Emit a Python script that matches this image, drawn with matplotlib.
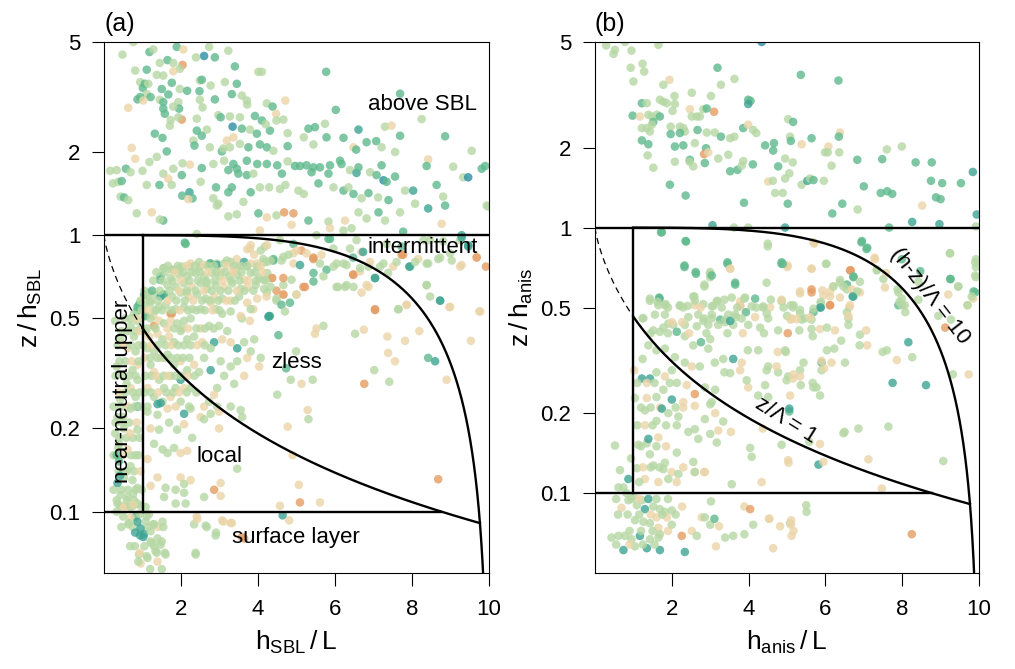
import numpy as np
import matplotlib
matplotlib.use("Agg")
import matplotlib.pyplot as plt
from matplotlib.ticker import NullLocator

plt.rcParams["font.family"] = ["Liberation Sans", "DejaVu Sans"]
plt.rcParams["mathtext.default"] = "regular"

# colour classes of the points (orange -> tan -> light green -> green -> teal -> blue)
colour_of = {"O": "#e49c63", "T": "#ebd5a9", "L": "#b6d8a4",
             "G": "#5fba8d", "D": "#3da493", "B": "#2c8fa5"}

# ---- panel (a): points, (h_SBL/L, z/h_SBL, colour class)
a_above = [
    (0.76,5.0,"L"),(0.48,4.5,"L"),(1.18,4.6,"G"),(1.28,4.7,"L"),(1.89,4.8,"G"),(2.06,4.7,"T"),(2.60,4.45,"B"),
    (2.88,4.4,"G"),(2.73,4.8,"L"),(3.23,4.65,"L"),(2.04,4.13,"O"),(2.39,4.4,"L"),(1.65,4.3,"G"),(1.45,4.2,"L"),
    (1.80,4.2,"L"),(1.97,4.0,"L"),(3.40,4.08,"G"),(0.81,3.94,"L"),(1.11,3.97,"G"),(1.37,3.8,"L"),(1.54,3.78,"L"),
    (1.80,3.92,"T"),(4.01,3.9,"L"),(4.1,3.9,"L"),(5.77,3.9,"G"),(2.49,3.63,"L"),(2.54,3.65,"G"),(3.14,3.58,"L"),
    (3.45,3.53,"G"),(0.94,3.58,"L"),(1.06,3.53,"G"),(1.01,3.41,"G"),(1.15,3.53,"L"),(1.50,3.38,"G"),(1.76,3.56,"G"),
    (1.97,3.38,"L"),(2.16,3.33,"G"),(2.48,3.32,"G"),(2.77,3.48,"L"),(3.32,3.24,"G"),(1.11,3.24,"L"),(0.87,3.1,"G"),
    (0.94,3.16,"G"),(1.21,3.16,"G"),(1.45,3.09,"L"),(1.67,3.23,"G"),(1.02,3.07,"T"),(0.63,2.89,"T"),(1.54,3.03,"G"),
    (1.93,3.03,"L"),(1.95,2.87,"G"),(1.80,2.92,"L"),(1.54,2.87,"G"),(1.58,2.75,"G"),(2.49,3.09,"L"),(2.88,3.1,"G"),
    (2.56,2.9,"L"),(3.58,3.2,"L"),(3.71,3.07,"L"),(3.72,2.97,"L"),(4.23,3.0,"L"),(4.38,2.92,"G"),(4.71,3.07,"T"),
    (7.69,3.25,"G"),(6.02,2.84,"G"),(2.02,2.62,"O"),(1.71,2.49,"L"),(1.73,2.61,"L"),(1.93,2.67,"L"),(2.41,2.64,"L"),
    (2.97,2.72,"L"),(3.03,2.67,"G"),(3.27,2.69,"L"),(3.53,2.67,"L"),(3.92,2.7,"G"),(4.1,2.6,"G"),(4.47,2.75,"T"),
    (4.48,2.6,"L"),(4.66,2.62,"L"),(8.25,2.63,"L"),(3.34,2.47,"B"),(2.41,2.39,"G"),(2.67,2.41,"L"),(2.54,2.29,"G"),
    (3.58,2.43,"G"),(3.79,2.41,"L"),(3.97,2.33,"G"),(4.31,2.39,"G"),(4.2,2.52,"L"),(4.77,2.34,"L"),(5.31,2.43,"G"),
    (5.48,2.46,"G"),(5.74,2.53,"L"),(6.61,2.41,"D"),(7.30,2.47,"L"),(7.47,2.49,"T"),(7.69,2.29,"G"),(8.86,2.28,"G"),
    (1.32,2.33,"G"),(1.52,2.25,"G"),(0.72,2.07,"T"),(0.81,1.89,"T"),(1.63,2.01,"G"),(2.32,2.2,"L"),(2.35,2.11,"G"),
    (2.75,2.08,"L"),(3.06,2.01,"G"),(3.10,2.06,"L"),(3.19,2.2,"T"),(3.36,2.26,"T"),(3.27,2.08,"L"),(3.53,2.14,"L"),
    (3.75,2.08,"G"),(4.05,2.13,"G"),(4.23,2.08,"G"),(4.40,2.02,"L"),(4.77,2.1,"G"),(5.19,2.26,"L"),(5.44,2.13,"L"),
    (5.78,2.26,"G"),(6.22,2.25,"G"),(6.48,2.08,"T"),(6.55,2.04,"G"),(6.82,2.17,"G"),(7.07,2.19,"G"),(7.21,2.08,"L"),
    (7.56,2.0,"L"),(9.55,2.02,"L"),(8.42,1.88,"T"),(0.16,1.71,"L"),(0.33,1.72,"L"),(0.57,1.74,"G"),(0.69,1.69,"L"),
    (1.0,1.71,"L"),(1.18,1.84,"L"),(1.37,1.92,"L"),(1.54,1.67,"L"),(1.67,1.60,"T"),(1.80,1.74,"L"),(2.04,1.82,"L"),
    (2.23,1.8,"T"),(2.54,1.75,"G"),(2.02,1.65,"G"),(2.84,1.81,"L"),(3.12,1.86,"L"),(3.23,1.72,"G"),(3.36,1.81,"G"),
    (3.45,1.74,"G"),(3.49,1.67,"G"),(3.71,1.86,"G"),(3.71,1.65,"G"),(3.88,1.67,"L"),(3.98,1.81,"G"),(4.23,1.81,"G"),
    (4.5,1.79,"G"),(4.62,1.67,"G"),(4.77,1.85,"L"),(4.96,1.78,"G"),(5.09,1.78,"G"),(5.26,1.79,"G"),(5.44,1.76,"G"),
    (5.39,1.69,"G"),(5.61,1.76,"G"),(5.87,1.79,"G"),(5.83,1.67,"G"),(6.13,1.86,"G"),(6.17,1.81,"G"),(6.39,1.72,"L"),
    (6.56,1.68,"D"),(6.61,1.76,"G"),(6.91,1.69,"L"),(7.21,1.79,"G"),(7.08,1.65,"G"),(7.26,1.58,"B"),(7.34,1.56,"G"),
    (7.56,1.63,"G"),(8.38,1.78,"G"),(9.07,1.77,"L"),(9.33,1.62,"L"),(9.46,1.62,"B"),(9.81,1.74,"G"),(9.9,1.78,"G"),
    (0.23,1.54,"L"),(0.37,1.56,"L"),(0.46,1.57,"G"),(0.43,1.38,"L"),(0.52,1.37,"G"),(0.63,1.34,"L"),(1.11,1.52,"L"),
    (1.44,1.52,"G"),(1.76,1.52,"L"),(2.03,1.39,"G"),(2.22,1.43,"D"),(2.30,1.36,"G"),(2.19,1.35,"T"),(2.51,1.56,"L"),
    (2.91,1.49,"G"),(2.84,1.36,"L"),(2.97,1.30,"L"),(3.23,1.43,"G"),(3.32,1.49,"G"),(3.62,1.32,"L"),(3.81,1.43,"G"),
    (4.05,1.49,"L"),(4.29,1.49,"L"),(4.57,1.47,"L"),(4.71,1.52,"L"),(5.05,1.45,"L"),(5.19,1.41,"L"),(5.57,1.54,"G"),
    (5.96,1.49,"L"),(6.22,1.45,"G"),(6.35,1.49,"L"),(6.48,1.41,"G"),(6.69,1.36,"L"),(6.87,1.42,"G"),(7.12,1.37,"L"),
    (7.39,1.34,"G"),(7.82,1.45,"L"),(8.03,1.45,"D"),(8.08,1.30,"L"),(8.64,1.52,"G"),(8.81,1.38,"L"),(8.86,1.28,"G"),
    (8.42,1.25,"D"),(9.94,1.28,"L"),(0.85,1.2,"L"),(1.24,1.21,"T"),(1.54,1.13,"G"),(1.45,1.14,"L"),(2.41,1.01,"L"),
    (2.93,1.28,"L"),(3.23,1.17,"L"),(3.45,1.19,"L"),(4.01,1.2,"G"),(4.23,1.16,"T"),(4.48,1.18,"L"),(4.68,1.21,"O"),
    (4.92,1.2,"O"),(4.87,1.09,"T"),(5.31,1.13,"G"),(5.83,1.12,"L"),(5.87,1.06,"T"),(6.26,1.13,"T"),(6.22,1.04,"L"),
    (6.43,1.06,"L"),(6.61,1.21,"L"),(6.82,1.15,"L"),(7.13,1.21,"G"),(7.3,1.13,"L"),(7.69,1.21,"L"),(7.77,1.03,"G"),
    (8.77,1.1,"T"),(9.29,1.0,"D"),(9.98,1.27,"L"),(4.05,1.04,"T"),
]

a_band = [
    (2.10,0.94,"G"),(4.18,0.91,"L"),(3.79,0.895,"T"),(3.45,0.82,"T"),(3.19,0.81,"L"),(2.93,0.79,"L"),(2.75,0.79,"G"),
    (2.49,0.77,"L"),(2.23,0.77,"L"),(1.97,0.76,"L"),(1.76,0.75,"L"),(1.54,0.76,"L"),(1.45,0.69,"G"),(1.04,0.61,"G"),
    (1.15,0.62,"L"),(0.94,0.57,"L"),(0.85,0.53,"G"),(1.06,0.51,"L"),(1.28,0.51,"T"),(1.76,0.52,"O"),(1.54,0.61,"G"),
    (2.15,0.62,"L"),(2.67,0.67,"L"),(3.01,0.71,"L"),(3.36,0.74,"T"),(3.71,0.77,"L"),(3.97,0.79,"T"),(4.23,0.8,"L"),
    (4.4,0.82,"G"),(4.66,0.835,"L"),(4.92,0.86,"T"),(5.13,0.88,"O"),(5.44,0.82,"O"),(5.61,0.79,"L"),(5.78,0.75,"G"),
    (5.96,0.77,"L"),(6.22,0.79,"L"),(6.48,0.72,"O"),(6.65,0.74,"T"),(6.87,0.77,"L"),(7.04,0.70,"G"),(7.26,0.79,"L"),
    (7.51,0.77,"T"),(7.73,0.85,"O"),(7.95,0.77,"G"),(8.16,0.82,"T"),(8.38,0.79,"L"),(8.68,0.82,"L"),(8.99,0.86,"L"),
    (9.29,0.78,"T"),(9.46,0.91,"D"),(9.68,0.835,"T"),(9.92,0.77,"O"),(8.38,0.66,"L"),(8.73,0.58,"G"),(8.99,0.55,"T"),
    (7.86,0.56,"T"),(7.65,0.54,"L"),(7.04,0.54,"O"),(6.87,0.65,"T"),(6.48,0.65,"L"),(6.30,0.66,"L"),(6.04,0.65,"L"),
    (9.77,0.53,"T"),(5.22,0.65,"O"),(5.0,0.61,"L"),(4.66,0.61,"T"),(4.66,0.66,"L"),(4.48,0.59,"L"),(4.48,0.63,"O"),
    (4.23,0.62,"L"),(4.31,0.51,"G"),(3.88,0.54,"T"),(3.58,0.50,"L"),(3.79,0.49,"T"),(5.44,0.73,"G"),(8.3,0.96,"L"),
    (8.47,0.96,"L"),(8.81,0.95,"L"),(9.25,0.96,"L"),(7.73,0.91,"G"),(7.34,0.93,"L"),(5.96,0.895,"L"),(6.39,0.895,"L"),
    (6.69,0.87,"T"),(5.83,0.97,"G"),(6.56,0.96,"L"),(4.92,0.93,"G"),
    (4.14,0.82,"L"),(4.4,0.81,"G"),(4.61,0.81,"L"),(4.79,0.85,"L"),(4.92,0.79,"T"),(5.09,0.78,"D"),(5.26,0.86,"T"),
    (5.44,0.83,"O"),(5.65,0.85,"T"),(5.87,0.97,"G"),(6.04,0.79,"L"),(6.3,0.78,"L"),(6.47,0.83,"G"),(6.65,0.76,"L"),
    (6.73,0.87,"D"),(6.91,0.80,"T"),(7.04,0.70,"D"),(7.17,0.77,"L"),(7.38,0.73,"L"),(7.6,0.80,"L"),(7.77,0.85,"O"),
    (7.93,0.77,"D"),(8.08,0.80,"L"),(8.42,0.79,"L"),(8.73,0.83,"L"),(9.03,0.81,"L"),(9.25,0.77,"T"),(9.29,0.98,"D"),
    (9.46,0.92,"D"),(9.68,0.83,"O"),(4.35,0.70,"T"),(4.66,0.70,"O"),(4.87,0.69,"L"),(5.18,0.65,"O"),(5.44,0.68,"G"),
    (5.7,0.71,"L"),(6.08,0.65,"L"),(6.26,0.65,"L"),(6.47,0.72,"O"),(6.82,0.66,"T"),(6.69,0.62,"T"),(4.48,0.58,"L"),
    (4.61,0.56,"G"),(4.7,0.53,"L"),(4.83,0.57,"G"),(5.0,0.61,"T"),(4.66,0.61,"O"),(4.22,0.60,"T"),(4.14,0.69,"L"),
    (5.0,0.88,"T"),(4.57,0.96,"L"),(5.52,1.0,"L"),
]

a_mid = [
    (4.27,0.507,"D"),(4.53,0.435,"G"),(5.7,0.47,"L"),(5.48,0.44,"T"),(5.52,0.46,"T"),(7.04,0.536,"O"),(6.52,0.44,"L"),
    (6.75,0.455,"T"),(7.64,0.54,"L"),(7.86,0.56,"T"),(8.19,0.45,"T"),(8.38,0.66,"L"),(8.47,0.60,"L"),(8.73,0.58,"D"),
    (8.97,0.55,"T"),(9.75,0.53,"T"),(9.53,0.415,"T"),(7.82,0.415,"T"),(7.36,0.43,"T"),(7.38,0.375,"T"),(7.56,0.35,"T"),
    (8.42,0.36,"G"),(8.6,0.35,"D"),(8.9,0.30,"T"),(7.02,0.325,"L"),(7.41,0.295,"L"),(6.76,0.29,"O"),(4.99,0.38,"L"),
    (4.73,0.33,"G"),(4.85,0.30,"L"),(5.13,0.29,"T"),(5.42,0.30,"L"),(4.5,0.265,"L"),(5.29,0.233,"T"),(5.31,0.216,"L"),
    (4.77,0.203,"T"),(4.9,0.16,"T"),(5.06,0.125,"T"),(5.09,0.108,"O"),(5.61,0.108,"T"),(4.57,0.105,"T"),(4.64,0.097,"D"),
    (4.81,0.093,"T"),(8.68,0.131,"O"),
]

a_cluster = [
    (2.12,0.93,"G"),(1.56,0.76,"L"),(1.82,0.75,"L"),(2.03,0.77,"L"),(2.25,0.79,"T"),(2.47,0.80,"L"),(2.6,0.78,"T"),
    (2.77,0.79,"G"),(2.94,0.78,"D"),(3.12,0.79,"L"),(3.29,0.80,"L"),(3.46,0.77,"T"),(3.64,0.80,"D"),(3.81,0.79,"T"),
    (3.98,0.77,"L"),(4.16,0.80,"L"),(4.33,0.81,"L"),(3.9,0.85,"T"),(3.72,0.89,"T"),(3.81,0.92,"T"),(4.07,0.88,"L"),
    (4.24,0.92,"T"),(1.47,0.71,"G"),(1.73,0.70,"L"),(1.95,0.72,"L"),(2.16,0.71,"L"),(2.38,0.73,"L"),(2.6,0.71,"L"),
    (2.81,0.73,"L"),(3.03,0.74,"T"),(3.25,0.71,"L"),(3.46,0.72,"L"),(3.64,0.69,"T"),(3.81,0.73,"L"),(4.03,0.70,"L"),
    (4.24,0.73,"L"),(4.37,0.70,"O"),(1.65,0.66,"L"),(1.86,0.65,"L"),(2.08,0.67,"L"),(2.29,0.65,"T"),(2.51,0.67,"L"),
    (2.68,0.64,"L"),(2.9,0.66,"L"),(3.12,0.65,"T"),(3.33,0.67,"L"),(3.55,0.64,"L"),(3.72,0.65,"T"),(3.94,0.66,"L"),
    (4.16,0.64,"L"),(4.33,0.65,"L"),(1.13,0.60,"L"),(1.34,0.61,"L"),(1.56,0.61,"G"),(1.77,0.60,"L"),(1.99,0.62,"L"),
    (2.21,0.60,"T"),(2.42,0.61,"L"),(2.64,0.59,"L"),(2.86,0.60,"T"),(3.07,0.59,"L"),(3.29,0.58,"T"),(3.51,0.60,"L"),
    (3.72,0.57,"T"),(3.98,0.59,"T"),(4.29,0.51,"D"),(0.91,0.56,"G"),(1.04,0.56,"L"),(1.21,0.57,"L"),(1.43,0.55,"L"),
    (1.6,0.56,"L"),(1.73,0.52,"O"),(1.86,0.54,"L"),(2.08,0.55,"L"),(2.29,0.54,"L"),(2.51,0.54,"L"),(2.77,0.57,"T"),
    (2.9,0.54,"L"),(3.07,0.52,"L"),(3.29,0.53,"L"),(3.55,0.51,"T"),(3.81,0.54,"L"),(0.78,0.52,"L"),(0.87,0.49,"L"),
    (1.08,0.51,"G"),(1.21,0.50,"L"),(1.3,0.47,"O"),(1.43,0.49,"T"),(1.56,0.48,"L"),(1.73,0.49,"T"),(1.9,0.48,"L"),
    (2.08,0.49,"L"),(2.25,0.50,"L"),(2.51,0.46,"T"),(2.73,0.47,"L"),(2.99,0.47,"L"),(3.2,0.45,"L"),(1.08,0.45,"L"),
    (1.17,0.43,"T"),(1.39,0.44,"T"),(1.52,0.42,"L"),(1.69,0.43,"T"),(1.82,0.41,"L"),(1.99,0.45,"L"),(2.16,0.42,"L"),
    (2.34,0.43,"L"),(2.55,0.41,"T"),(2.86,0.41,"D"),(3.07,0.42,"T"),(3.29,0.41,"T"),(3.46,0.39,"D"),(3.64,0.41,"L"),
    (3.9,0.42,"L"),(3.81,0.38,"L"),(4.07,0.36,"L"),(3.72,0.36,"T"),(3.46,0.35,"L"),(3.29,0.335,"L"),(4.03,0.335,"T"),
    (3.64,0.31,"T"),(3.38,0.29,"L"),(2.77,0.39,"L"),(2.6,0.36,"L"),(2.77,0.325,"D"),(3.03,0.35,"L"),(3.12,0.31,"L"),
    (2.94,0.28,"L"),(2.86,0.265,"T"),(1.13,0.39,"L"),(1.3,0.38,"L"),(1.47,0.36,"T"),(1.65,0.37,"L"),(1.82,0.34,"L"),
    (1.99,0.35,"T"),(2.16,0.325,"L"),(2.34,0.34,"T"),(2.47,0.32,"L"),(1.21,0.34,"L"),(1.3,0.32,"T"),(1.43,0.30,"L"),
    (1.73,0.31,"L"),(1.56,0.28,"L"),(1.99,0.30,"D"),(1.86,0.28,"L"),(2.08,0.28,"T"),(2.25,0.28,"L"),(1.13,0.28,"T"),
    (1.3,0.26,"L"),(1.52,0.25,"L"),(1.73,0.26,"T"),(1.99,0.25,"L"),(2.21,0.24,"L"),(1.39,0.245,"D"),(1.13,0.24,"L"),
    (2.6,0.24,"T"),(2.94,0.24,"L"),(2.73,0.25,"L"),(0.87,0.55,"G"),(0.69,0.47,"L"),(0.78,0.43,"L"),(0.61,0.39,"T"),
    (0.82,0.38,"L"),(0.87,0.34,"T"),(0.74,0.325,"L"),(0.87,0.30,"L"),(0.69,0.28,"T"),(0.82,0.26,"L"),(0.87,0.24,"D"),
    (1.47,0.60,"D"),(1.3,0.535,"L"),
]

# extra points in the densest part of the cloud (estimated, overlapping dots)
a_dense = [
    (1.66,0.775,"L"),(1.92,0.775,"L"),(2.14,0.775,"T"),(2.36,0.775,"L"),(2.70,0.775,"L"),(2.86,0.775,"L"),
    (3.20,0.775,"T"),(3.38,0.775,"L"),(3.55,0.775,"L"),(3.72,0.775,"L"),(4.07,0.775,"T"),
    (1.36,0.735,"L"),(1.58,0.735,"L"),(1.84,0.735,"T"),(2.05,0.735,"L"),(2.27,0.735,"L"),(2.49,0.735,"L"),
    (2.70,0.735,"T"),(2.92,0.735,"L"),(3.14,0.735,"L"),(3.36,0.735,"T"),(3.57,0.735,"L"),(3.92,0.735,"L"),
    (4.12,0.735,"T"),
    (1.28,0.685,"L"),(1.52,0.685,"L"),(1.78,0.685,"L"),(2.00,0.685,"T"),(2.22,0.685,"L"),(2.44,0.685,"L"),
    (2.66,0.685,"L"),(2.88,0.685,"L"),(3.08,0.685,"T"),(3.30,0.685,"L"),(3.52,0.685,"L"),(3.75,0.685,"T"),
    (3.95,0.685,"L"),(4.2,0.685,"L"),
    (1.05,0.63,"L"),(1.25,0.63,"G"),(1.45,0.63,"L"),(1.70,0.63,"L"),(1.95,0.63,"T"),(2.15,0.63,"L"),
    (2.38,0.63,"L"),(2.60,0.63,"T"),(2.80,0.63,"L"),(3.02,0.63,"L"),(3.23,0.63,"L"),(3.45,0.63,"T"),
    (3.65,0.63,"L"),(3.88,0.63,"L"),
    (0.95,0.58,"L"),(1.20,0.58,"L"),(1.40,0.58,"L"),(1.66,0.58,"T"),(1.88,0.58,"L"),(2.10,0.58,"L"),
    (2.32,0.58,"T"),(2.55,0.58,"L"),(2.76,0.58,"L"),(2.97,0.58,"L"),(3.18,0.58,"T"),(3.40,0.58,"L"),
    (0.98,0.535,"L"),(1.15,0.535,"T"),(1.36,0.535,"L"),(1.52,0.535,"L"),(1.75,0.535,"L"),(1.97,0.535,"T"),
    (2.18,0.535,"L"),(2.40,0.535,"L"),(2.62,0.535,"L"),(2.82,0.535,"T"),(3.0,0.535,"L"),
    (0.95,0.46,"L"),(1.12,0.46,"L"),(1.34,0.46,"L"),(1.65,0.46,"T"),(1.82,0.46,"L"),(2.02,0.46,"L"),
    (2.18,0.46,"T"),(2.40,0.46,"L"),(2.62,0.46,"L"),(2.85,0.46,"L"),
    (1.02,0.40,"L"),(1.22,0.40,"T"),(1.40,0.40,"L"),(1.60,0.40,"L"),(1.75,0.40,"T"),(1.92,0.40,"L"),
    (2.08,0.40,"L"),(2.25,0.40,"L"),(2.42,0.40,"T"),(2.62,0.40,"L"),
    (1.05,0.36,"T"),(1.20,0.36,"L"),(1.38,0.36,"L"),(1.56,0.36,"L"),(1.73,0.36,"L"),(1.90,0.36,"L"),
    (2.05,0.36,"L"),(2.22,0.36,"L"),
    (1.08,0.31,"L"),(1.24,0.31,"L"),(1.36,0.31,"T"),(1.55,0.31,"L"),(1.67,0.31,"T"),(1.85,0.31,"L"),
    (2.0,0.31,"L"),(2.18,0.31,"T"),(2.35,0.31,"L"),
    (1.05,0.27,"L"),(1.22,0.27,"L"),(1.40,0.27,"T"),(1.62,0.27,"L"),(1.80,0.27,"L"),(1.95,0.27,"T"),
    (2.15,0.27,"L"),(2.40,0.27,"L"),
    (0.55,0.50,"L"),(0.70,0.50,"L"),(0.85,0.50,"T"),(0.45,0.45,"L"),(0.62,0.45,"L"),(0.80,0.45,"L"),
    (0.92,0.45,"T"),(0.35,0.40,"L"),(0.52,0.40,"T"),(0.70,0.40,"L"),(0.90,0.40,"L"),(0.40,0.35,"L"),
    (0.55,0.35,"L"),(0.72,0.35,"T"),(0.90,0.35,"L"),(0.30,0.31,"L"),(0.48,0.31,"L"),(0.65,0.31,"L"),
    (0.82,0.31,"L"),(0.38,0.27,"T"),(0.55,0.27,"L"),(0.75,0.27,"L"),(0.92,0.27,"L"),(0.25,0.24,"L"),
    (0.45,0.24,"L"),(0.62,0.24,"T"),(0.80,0.24,"L"),(0.95,0.24,"L"),(0.30,0.21,"L"),(0.48,0.21,"L"),
    (0.65,0.21,"L"),(0.85,0.21,"T"),(0.40,0.185,"L"),(0.58,0.185,"L"),(0.75,0.185,"L"),(0.92,0.185,"L"),
    (0.25,0.16,"L"),(0.50,0.16,"T"),(0.70,0.16,"L"),(0.90,0.16,"L"),(0.38,0.14,"L"),(0.55,0.14,"L"),
    (0.78,0.14,"L"),(0.95,0.14,"T"),(0.25,0.12,"L"),(0.45,0.12,"L"),(0.62,0.12,"L"),(0.82,0.12,"L"),
    (0.98,0.12,"L"),(0.42,0.105,"L"),(0.58,0.105,"T"),(0.75,0.105,"L"),(0.95,0.105,"L"),
    (0.45,0.088,"L"),(0.75,0.088,"L"),(1.15,0.088,"L"),(1.4,0.088,"T"),(0.8,0.075,"L"),(1.05,0.075,"L"),
    (1.3,0.075,"L"),(1.2,0.062,"L"),(1.5,0.062,"L"),
]

a_low = [
    (1.47,0.247,"D"),(1.13,0.23,"L"),(1.39,0.224,"L"),(1.65,0.236,"T"),(1.86,0.24,"T"),(2.08,0.226,"D"),(2.25,0.236,"L"),
    (2.51,0.22,"T"),(2.77,0.226,"L"),(2.99,0.23,"T"),(3.29,0.24,"L"),(3.55,0.233,"L"),(3.59,0.22,"L"),(2.99,0.20,"T"),
    (2.6,0.216,"L"),(1.21,0.20,"T"),(1.43,0.198,"L"),(1.69,0.21,"L"),(1.9,0.198,"L"),(2.08,0.207,"T"),(2.29,0.185,"L"),
    (1.3,0.176,"L"),(1.52,0.168,"L"),(1.65,0.163,"L"),(1.82,0.17,"L"),(1.99,0.163,"T"),(2.16,0.166,"T"),(1.13,0.155,"T"),
    (1.39,0.133,"T"),(1.21,0.124,"T"),(1.6,0.122,"L"),(1.86,0.12,"L"),(1.99,0.133,"T"),(2.08,0.126,"L"),(2.25,0.13,"T"),
    (2.08,0.117,"L"),(1.56,0.113,"L"),(1.86,0.107,"L"),(2.6,0.113,"L"),(2.86,0.12,"O"),(3.03,0.127,"T"),(3.03,0.114,"T"),
    (3.46,0.143,"L"),(2.12,0.107,"L"),(1.08,0.104,"L"),(1.17,0.098,"L"),(0.35,0.22,"L"),(0.52,0.20,"L"),(0.69,0.236,"L"),
    (0.87,0.198,"L"),(0.39,0.176,"L"),(0.61,0.168,"T"),(0.82,0.16,"L"),(0.39,0.152,"G"),(0.69,0.146,"L"),(0.52,0.133,"L"),
    (0.35,0.127,"D"),(0.74,0.13,"L"),(0.87,0.122,"L"),(0.43,0.115,"L"),(0.61,0.113,"L"),(0.78,0.11,"L"),(0.35,0.107,"L"),
    (0.52,0.104,"T"),(0.69,0.104,"L"),(0.87,0.107,"L"),(0.82,0.096,"G"),(0.69,0.095,"T"),(0.87,0.092,"D"),(0.95,0.087,"D"),
    (1.04,0.083,"D"),(0.65,0.091,"L"),(1.08,0.092,"L"),(1.3,0.09,"L"),(1.52,0.092,"L"),(1.21,0.085,"L"),(1.39,0.08,"L"),
    (1.21,0.078,"L"),(1.47,0.076,"L"),(1.34,0.072,"L"),(1.6,0.07,"L"),(0.91,0.07,"L"),(1.13,0.068,"L"),(1.39,0.066,"T"),
    (0.95,0.065,"T"),(2.34,0.09,"L"),(2.64,0.089,"L"),(2.42,0.094,"T"),(3.07,0.093,"T"),(3.29,0.091,"T"),(2.9,0.082,"L"),
    (2.38,0.071,"L"),(3.64,0.08,"O"),
    (0.29,0.49,"L"),(0.42,0.42,"L"),(0.33,0.335,"L"),(0.59,0.29,"L"),(0.42,0.254,"L"),(0.5,0.22,"L"),(0.29,0.192,"L"),
    (0.68,0.192,"T"),(0.37,0.17,"L"),(0.33,0.16,"G"),(0.42,0.135,"D"),(0.59,0.14,"L"),(0.33,0.11,"L"),(0.59,0.11,"L"),
    (0.76,0.116,"L"),(0.76,0.106,"T"),(0.33,0.10,"L"),(0.5,0.096,"L"),(0.63,0.09,"L"),(0.81,0.084,"D"),(0.94,0.082,"D"),
    (1.02,0.081,"D"),(0.68,0.075,"L"),(0.94,0.071,"T"),(0.89,0.066,"L"),(1.11,0.069,"L"),(1.37,0.071,"L"),(1.58,0.071,"L"),
    (1.5,0.078,"L"),(1.24,0.077,"L"),(1.28,0.09,"L"),(1.54,0.088,"L"),(1.11,0.096,"L"),(0.94,0.098,"L"),(2.38,0.07,"L"),
    (2.67,0.088,"L"),(2.91,0.084,"L"),(3.1,0.092,"T"),(2.41,0.096,"T"),(3.32,0.091,"T"),(3.58,0.081,"O"),
]

# ---- panel (b): (h_anis/L, z/h_anis, colour class)
b_above = [
    (0.29,4.85,"L"),(0.52,4.67,"L"),(0.48,4.51,"L"),(0.78,5.0,"L"),(0.95,4.64,"L"),(1.65,4.88,"L"),(4.34,5.0,"B"),
    (0.93,4.0,"L"),(1.24,4.14,"L"),(1.28,3.87,"L"),(1.0,3.55,"L"),(1.94,3.6,"T"),(1.78,3.45,"L"),(3.19,4.0,"G"),
    (3.63,3.63,"L"),(3.28,3.45,"L"),(2.52,3.22,"L"),(5.36,3.76,"G"),(6.34,3.58,"G"),(2.07,3.13,"L"),(1.69,3.03,"L"),
    (1.78,2.98,"L"),(1.87,2.94,"L"),(1.22,2.94,"G"),(1.35,2.94,"L"),(2.08,2.92,"L"),(3.02,3.13,"L"),(3.99,3.03,"G"),
    (4.05,3.0,"G"),(3.99,2.92,"D"),(2.47,2.79,"T"),(2.82,2.79,"L"),(2.91,2.81,"G"),(3.1,2.73,"O"),(2.02,2.75,"L"),
    (0.98,2.64,"G"),(1.17,2.62,"T"),(1.39,2.66,"L"),(1.48,2.62,"L"),(1.61,2.66,"L"),(1.69,2.62,"G"),(1.52,2.5,"G"),
    (1.48,2.44,"L"),(1.35,2.37,"L"),(1.22,2.37,"L"),(1.43,2.30,"L"),(2.52,2.62,"L"),(2.65,2.62,"L"),(2.73,2.62,"L"),
    (1.97,2.4,"L"),(2.21,2.4,"L"),(2.3,2.37,"L"),(2.34,2.3,"L"),(2.21,2.27,"G"),(1.97,2.25,"G"),(2.67,2.33,"G"),
    (2.91,2.28,"L"),(3.12,2.28,"L"),(3.28,2.2,"G"),(3.52,2.17,"L"),(3.63,2.2,"L"),(3.86,2.37,"G"),(3.99,2.44,"T"),
    (4.12,2.33,"L"),(4.2,2.27,"L"),(5.03,2.56,"L"),(5.16,2.5,"G"),(5.08,2.2,"L"),(5.1,2.12,"G"),(5.64,2.17,"G"),
    (6.38,2.28,"T"),(6.35,2.2,"G"),(1.22,2.13,"G"),(1.39,2.06,"G"),(1.37,1.87,"L"),(1.52,1.68,"L"),(2.08,2.02,"G"),
    (2.3,2.04,"G"),(2.6,2.08,"L"),(2.89,1.99,"G"),(2.84,1.89,"O"),(2.95,1.92,"T"),(3.47,1.88,"L"),(3.21,1.82,"L"),
    (2.86,1.75,"G"),(2.47,1.8,"G"),(2.08,1.77,"L"),(2.56,1.70,"L"),(2.46,1.77,"L"),(3.86,1.78,"L"),(4.11,1.73,"G"),
    (4.43,2.04,"G"),(4.66,2.08,"G"),(4.64,1.95,"G"),(4.77,1.70,"G"),(4.95,1.82,"L"),(5.15,1.76,"L"),(5.38,2.06,"T"),
    (6.08,2.02,"T"),(5.99,1.92,"L"),(6.06,1.92,"L"),(6.36,1.92,"L"),(6.16,1.71,"L"),(6.83,1.80,"G"),(7.48,1.81,"G"),
    (7.6,1.97,"L"),(7.99,2.02,"L"),(8.35,1.76,"G"),(8.77,1.76,"G"),(9.84,1.62,"D"),(3.52,1.63,"G"),(3.71,1.65,"G"),
    (3.82,1.71,"L"),(1.95,1.45,"G"),(2.36,1.32,"G"),(4.51,1.49,"T"),(4.63,1.50,"L"),(4.69,1.35,"L"),(4.89,1.35,"L"),
    (4.95,1.53,"L"),(5.06,1.6,"L"),(5.02,1.23,"G"),(5.38,1.45,"L"),(5.53,1.5,"D"),(5.6,1.53,"L"),(5.69,1.51,"G"),
    (5.96,1.5,"L"),(3.88,1.24,"G"),(7.0,1.43,"G"),(7.44,1.35,"G"),(7.61,1.37,"G"),(7.74,1.34,"G"),(8.75,1.50,"G"),
    (9.04,1.47,"G"),(9.53,1.47,"G"),(8.88,1.30,"G"),(9.0,1.28,"G"),(8.52,1.21,"T"),(6.84,1.17,"L"),(6.18,1.13,"G"),
    (6.44,1.23,"G"),(3.06,1.02,"D"),(3.62,1.0,"L"),(3.99,1.0,"L"),(4.95,1.0,"D"),(7.66,1.0,"G"),(8.26,1.05,"D"),
    (8.97,1.03,"D"),(9.92,1.01,"L"),(9.94,1.12,"D"),
]

b_band = [
    (1.72,0.96,"G"),(2.37,0.886,"G"),(2.33,0.71,"G"),(2.63,0.67,"G"),(2.99,0.67,"L"),(3.0,0.65,"L"),(3.45,0.73,"G"),
    (3.65,0.61,"G"),(3.52,0.70,"T"),(2.85,0.60,"L"),(4.5,0.85,"L"),(4.86,0.73,"G"),(5.01,0.71,"T"),(5.64,0.70,"T"),
    (5.71,0.87,"T"),(6.02,0.73,"L"),(6.64,0.69,"O"),(6.73,0.65,"G"),(6.94,0.88,"G"),(7.07,0.83,"G"),(7.29,0.76,"T"),
    (7.34,0.69,"L"),(7.51,0.64,"L"),(9.24,0.80,"L"),(9.92,0.76,"L"),(9.92,0.71,"L"),(9.92,0.65,"L"),(9.9,0.57,"G"),
    (9.85,0.54,"T"),(9.26,0.64,"G"),(9.46,0.60,"L"),(9.2,0.56,"T"),(9.7,0.51,"T"),(7.9,0.57,"L"),(7.99,0.54,"L"),
    (8.07,0.51,"L"),(7.9,0.51,"G"),(6.38,0.635,"L"),(6.56,0.61,"G"),(6.73,0.55,"G"),(6.9,0.57,"T"),(6.2,0.60,"T"),
    (5.92,0.58,"T"),(6.12,0.55,"T"),(6.12,0.51,"O"),(6.62,0.50,"T"),(6.6,0.455,"L"),(5.64,0.57,"O"),(5.34,0.565,"T"),
    (5.88,0.52,"L"),(5.86,0.50,"D"),(5.69,0.48,"G"),(5.64,0.45,"L"),(5.16,0.50,"L"),(5.34,0.475,"L"),(5.38,0.45,"L"),
    (4.86,0.527,"T"),(4.91,0.50,"L"),(5.1,0.45,"T"),(4.56,0.50,"T"),(4.47,0.475,"L"),(4.38,0.50,"L"),(4.17,0.54,"G"),
    (3.91,0.545,"L"),(3.93,0.48,"G"),(3.78,0.507,"O"),(3.78,0.527,"T"),(3.67,0.46,"L"),(3.6,0.43,"L"),(3.39,0.44,"L"),
    (3.47,0.47,"L"),(3.26,0.45,"G"),(3.17,0.527,"L"),(3.08,0.507,"L"),(3.04,0.47,"L"),(2.84,0.455,"L"),(2.95,0.43,"L"),
    (2.69,0.47,"L"),(2.6,0.51,"T"),(2.59,0.55,"L"),(2.41,0.507,"L"),(2.21,0.507,"L"),(2.34,0.43,"L"),(2.04,0.43,"L"),
    (1.82,0.51,"L"),(1.68,0.54,"D"),(1.43,0.53,"L"),(1.65,0.51,"L"),(1.91,0.435,"L"),(1.78,0.42,"L"),(1.24,0.455,"L"),
]

b_mid = [
    (1.74,0.96,"G"),(2.36,0.89,"G"),(4.5,0.87,"L"),(2.33,0.72,"G"),(2.62,0.68,"G"),(3.0,0.68,"L"),(3.04,0.66,"G"),
    (2.85,0.61,"L"),(3.45,0.74,"G"),(3.52,0.70,"T"),(3.65,0.62,"G"),(4.47,0.62,"L"),(4.86,0.74,"G"),(5.02,0.72,"T"),
    (1.43,0.54,"L"),(1.67,0.545,"G"),(1.63,0.525,"L"),(1.84,0.515,"L"),(2.21,0.51,"L"),(2.56,0.55,"L"),(2.6,0.53,"L"),
    (2.82,0.515,"L"),(3.04,0.505,"L"),(3.19,0.53,"L"),(3.37,0.535,"L"),(3.56,0.545,"L"),(3.78,0.505,"T"),(3.89,0.54,"L"),
    (4.08,0.505,"L"),(4.38,0.505,"L"),(4.58,0.535,"L"),(4.86,0.53,"L"),(5.1,0.51,"L"),(1.26,0.456,"L"),(1.56,0.47,"L"),
    (1.82,0.47,"L"),(2.0,0.44,"T"),(2.27,0.44,"T"),(2.43,0.46,"L"),(2.65,0.425,"L"),(2.82,0.445,"L"),(3.04,0.455,"L"),
    (3.21,0.43,"L"),(3.39,0.45,"L"),(3.52,0.445,"D"),(3.65,0.47,"L"),(3.82,0.455,"L"),(3.99,0.43,"L"),(4.17,0.46,"T"),
    (4.3,0.42,"L"),(4.51,0.455,"L"),(4.77,0.41,"L"),(5.02,0.40,"O"),(5.12,0.455,"T"),(1.52,0.41,"L"),(1.69,0.405,"L"),
    (2.13,0.405,"G"),(2.34,0.39,"L"),(2.56,0.36,"L"),(2.76,0.37,"G"),(2.95,0.35,"L"),(3.0,0.38,"L"),(3.34,0.32,"L"),
    (3.6,0.32,"D"),(3.82,0.31,"T"),(3.98,0.345,"L"),(4.25,0.345,"L"),(4.51,0.30,"L"),(4.76,0.34,"T"),(4.97,0.34,"L"),
    (1.24,0.32,"L"),(1.39,0.36,"L"),(1.6,0.345,"L"),(1.82,0.35,"L"),(2.08,0.325,"L"),(2.34,0.31,"L"),(2.52,0.30,"T"),
    (2.73,0.30,"L"),(3.12,0.31,"L"),(3.37,0.285,"L"),(1.22,0.27,"D"),(1.43,0.27,"D"),(1.6,0.285,"L"),(1.82,0.275,"T"),
    (2.0,0.29,"L"),(2.13,0.26,"L"),(2.39,0.255,"T"),(2.6,0.236,"O"),(2.86,0.25,"L"),(3.13,0.245,"L"),(1.04,0.228,"L"),
    (1.35,0.228,"T"),(1.6,0.23,"L"),(1.78,0.245,"L"),(2.0,0.225,"D"),(2.3,0.22,"T"),(2.6,0.213,"T"),(3.0,0.216,"L"),
    (1.02,0.29,"T"),(3.99,0.25,"T"),(4.43,0.255,"L"),(4.77,0.285,"L"),(5.03,0.275,"L"),(4.25,0.233,"L"),(4.51,0.23,"L"),
    (5.06,0.203,"G"),(6.47,0.168,"L"),(4.37,0.175,"T"),(4.08,0.137,"L"),(2.59,0.12,"T"),(2.84,0.12,"T"),(3.52,0.283,"L"),
    (3.78,0.29,"T"),(3.95,0.266,"L"),(4.47,0.29,"L"),(4.73,0.30,"T"),(4.99,0.266,"L"),(5.16,0.27,"T"),(5.34,0.29,"L"),
    (5.69,0.25,"L"),(5.9,0.29,"L"),
    (1.9,0.5,"L"),(2.3,0.5,"L"),(2.75,0.5,"T"),(3.3,0.5,"L"),(3.7,0.5,"L"),(4.2,0.5,"L"),(1.45,0.4,"L"),(1.9,0.4,"L"),
    (2.45,0.4,"T"),(2.9,0.4,"L"),(3.45,0.4,"L"),(3.85,0.4,"T"),(4.4,0.4,"L"),(1.1,0.26,"L"),(1.35,0.26,"T"),
    (1.55,0.26,"L"),(1.95,0.26,"L"),(1.2,0.21,"L"),(1.45,0.21,"L"),(1.7,0.21,"T"),(2.1,0.21,"L"),
]

b_low = [
    (0.52,0.151,"L"),(0.65,0.122,"L"),(0.61,0.105,"L"),(0.74,0.105,"L"),(0.87,0.113,"D"),(0.82,0.10,"L"),(0.94,0.135,"L"),
    (1.09,0.124,"L"),(1.13,0.152,"L"),(1.35,0.154,"L"),(1.39,0.16,"D"),(1.3,0.205,"L"),(1.6,0.187,"L"),(1.74,0.208,"D"),
    (1.91,0.2,"L"),(2.13,0.18,"L"),(2.17,0.194,"L"),(2.3,0.21,"T"),(2.43,0.17,"L"),(2.6,0.174,"L"),(2.69,0.16,"L"),
    (2.86,0.19,"L"),(3.0,0.167,"L"),(3.17,0.155,"L"),(3.21,0.172,"T"),(3.34,0.186,"L"),(3.54,0.17,"T"),(3.13,0.20,"T"),
    (3.04,0.22,"L"),(1.65,0.162,"T"),(1.43,0.14,"L"),(1.52,0.127,"L"),(1.82,0.13,"L"),(2.0,0.12,"T"),(1.78,0.123,"L"),
    (1.91,0.113,"L"),(2.17,0.118,"L"),(2.13,0.11,"T"),(2.3,0.125,"T"),(2.56,0.131,"L"),(2.6,0.12,"L"),(2.86,0.12,"T"),
    (2.13,0.142,"L"),(1.3,0.113,"T"),(4.04,0.148,"L"),(3.56,0.108,"L"),(4.34,0.11,"T"),(5.03,0.133,"T"),(4.86,0.152,"L"),
    (0.69,0.088,"T"),(0.87,0.094,"L"),(1.0,0.097,"L"),(1.09,0.09,"L"),(1.22,0.094,"L"),(1.3,0.087,"D"),(1.39,0.095,"D"),
    (1.52,0.089,"L"),(1.69,0.087,"L"),(1.82,0.085,"L"),(2.0,0.086,"L"),(1.6,0.081,"T"),(1.87,0.081,"T"),(2.0,0.076,"L"),
    (1.04,0.079,"L"),(1.26,0.078,"L"),(1.43,0.077,"L"),(1.65,0.074,"T"),(1.69,0.07,"L"),(2.26,0.069,"O"),(2.52,0.072,"T"),
    (2.65,0.069,"L"),(0.43,0.068,"L"),(0.61,0.069,"L"),(0.78,0.069,"L"),(0.95,0.067,"L"),(1.17,0.069,"D"),(1.43,0.067,"L"),
    (1.65,0.068,"L"),(0.74,0.061,"D"),(1.04,0.063,"L"),(1.35,0.062,"D"),(1.69,0.061,"D"),(2.34,0.06,"D"),(2.27,0.089,"T"),
    (2.78,0.081,"T"),(2.86,0.081,"L"),(3.0,0.076,"L"),(3.11,0.08,"G"),(3.02,0.093,"L"),(3.23,0.075,"T"),(3.39,0.068,"L"),
    (3.6,0.069,"L"),(3.89,0.07,"L"),(3.15,0.063,"T"),(3.89,0.089,"T"),(4.04,0.087,"O"),(4.12,0.076,"L"),(4.53,0.08,"T"),
    (4.82,0.075,"T"),(5.12,0.069,"T"),(4.64,0.062,"T"),(5.08,0.077,"L"),(4.54,0.08,"T"),(5.1,0.076,"T"),
    (0.55,0.095,"L"),(0.95,0.095,"L"),(1.15,0.095,"T"),(1.6,0.095,"L"),(1.9,0.095,"L"),(0.6,0.083,"L"),(0.85,0.083,"L"),
    (1.15,0.083,"L"),(1.45,0.083,"T"),(1.75,0.083,"L"),(2.1,0.083,"L"),(0.9,0.072,"L"),(1.2,0.072,"L"),(1.5,0.072,"L"),
    (1.9,0.072,"T"),(0.55,0.064,"L"),(0.9,0.064,"T"),(1.25,0.064,"L"),(1.55,0.064,"L"),(1.1,0.18,"L"),(1.3,0.18,"T"),
    (1.5,0.18,"L"),(1.85,0.18,"L"),(1.2,0.15,"L"),(1.6,0.15,"L"),(1.85,0.15,"T"),(1.25,0.125,"T"),(1.45,0.125,"L"),
    (1.68,0.125,"L"),(1.15,0.11,"L"),(1.65,0.11,"T"),
]

b_right = [
    (6.95,0.89,"G"),(7.09,0.84,"G"),(4.89,0.73,"G"),(5.69,0.88,"T"),(6.02,0.73,"L"),(5.64,0.70,"T"),(6.66,0.69,"O"),
    (6.73,0.655,"G"),(6.9,0.625,"L"),(6.38,0.62,"L"),(6.47,0.60,"L"),(6.56,0.585,"L"),(6.69,0.585,"T"),(6.83,0.575,"L"),
    (6.71,0.55,"D"),(6.64,0.51,"T"),(5.64,0.585,"O"),(5.34,0.575,"T"),(5.95,0.555,"T"),(6.12,0.575,"T"),(6.21,0.60,"L"),
    (5.88,0.525,"L"),(5.69,0.495,"L"),(5.88,0.50,"D"),(6.12,0.51,"O"),(6.38,0.545,"T"),(5.17,0.51,"L"),(5.34,0.49,"L"),
    (5.47,0.455,"L"),(5.6,0.46,"T"),(4.86,0.535,"T"),(5.0,0.465,"L"),(5.08,0.455,"T"),(5.25,0.452,"T"),(5.32,0.41,"L"),
    (5.86,0.415,"T"),(5.64,0.415,"L"),(6.04,0.42,"L"),(6.25,0.41,"T"),(6.56,0.48,"L"),(6.6,0.465,"T"),(6.6,0.43,"L"),
    (6.9,0.395,"L"),(7.09,0.36,"T"),(6.89,0.36,"L"),(7.06,0.41,"T"),(6.41,0.375,"L"),(6.23,0.35,"L"),(6.04,0.345,"L"),
    (5.9,0.31,"G"),(5.9,0.315,"T"),(6.16,0.31,"T"),(6.51,0.31,"L"),(5.97,0.295,"T"),(5.67,0.39,"L"),(5.43,0.31,"L"),
    (4.95,0.345,"L"),(5.17,0.28,"T"),(5.34,0.275,"T"),(5.36,0.255,"L"),(5.08,0.233,"T"),(5.67,0.26,"L"),(5.77,0.25,"L"),
    (5.86,0.233,"L"),(5.06,0.208,"D"),(7.49,0.34,"L"),(7.6,0.345,"L"),(7.86,0.317,"T"),(8.16,0.37,"D"),(8.26,0.325,"L"),
    (7.75,0.26,"D"),(8.62,0.255,"D"),(7.99,0.51,"L"),(8.08,0.48,"L"),(7.93,0.525,"L"),(7.88,0.585,"L"),(7.55,0.595,"T"),
    (7.34,0.695,"L"),(7.28,0.77,"T"),(7.58,0.675,"T"),(7.99,0.76,"G"),(8.47,0.685,"G"),(8.42,0.625,"L"),(8.42,0.535,"L"),
    (8.94,0.465,"L"),(9.12,0.42,"O"),(9.27,0.45,"L"),(9.25,0.80,"L"),(9.25,0.64,"G"),(9.46,0.60,"L"),(9.7,0.51,"L"),
    (9.9,0.74,"L"),(9.9,0.66,"L"),(9.86,0.575,"G"),(9.81,0.55,"L"),(9.32,0.28,"L"),(9.73,0.28,"T"),(6.5,0.17,"L"),
    (6.86,0.175,"L"),(7.64,0.178,"L"),(5.58,0.156,"L"),(5.86,0.153,"T"),(5.04,0.13,"T"),(5.82,0.128,"D"),(5.95,0.131,"T"),
    (7.12,0.134,"T"),(9.07,0.132,"L"),(7.47,0.104,"T"),(5.5,0.09,"L"),(5.51,0.085,"L"),(5.11,0.079,"T"),(5.17,0.072,"T"),
    (8.25,0.07,"O"),
]

panels = [
    {"points": a_above + a_band + a_mid + a_cluster + a_dense + a_low, "ymin": 0.06,
     "xlabel": r"$h_{SBL}\,/\,L$", "ylabel": r"$z\,/\,h_{SBL}$", "tag": "(a)"},
    {"points": b_above + b_band + b_mid + b_low + b_right, "ymin": 0.05,
     "xlabel": r"$h_{anis}\,/\,L$", "ylabel": r"$z\,/\,h_{anis}$", "tag": "(b)"},
]
y_ticks = [0.1, 0.2, 0.5, 1, 2, 5]
y_tick_labels = ["0.1", "0.2", "0.5", "1", "2", "5"]
x_ticks = [2, 4, 6, 8, 10]


def draw_regimes(ax):
    # local Obukhov length: Lambda = L (1 - z/h)^(5/4)
    s = np.linspace(0.99999, 1 / 11, 4000)
    xs = (1 - s) ** 1.25 / s                      # z/Lambda = 1
    ax.plot(xs[xs <= 1], s[xs <= 1], color="k", ls=(0, (5, 3.5)), lw=0.9, zorder=3)
    ax.plot(xs[xs >= 1], s[xs >= 1], "k-", lw=1.7, zorder=3)
    xh = np.linspace(1, 9.95, 3000)
    ax.plot(xh, 1 - (xh / 10) ** 4, "k-", lw=1.7, zorder=3)   # (h-z)/Lambda = 10
    ax.axhline(1, color="k", lw=1.7, zorder=3)
    ax.plot([1, 1], [0.1, 1], "k-", lw=1.7, zorder=3)
    x01 = 0.9 ** 1.25 / 0.1
    ax.plot([0, x01], [0.1, 0.1], "k-", lw=1.7, zorder=3)


fig = plt.figure(figsize=(10.15, 6.69), dpi=100)
lefts = [104 / 1015, 595 / 1015]
widths = [385 / 1015, 384 / 1015]
axes = []
for p, left, w in zip(panels, lefts, widths):
    ax = fig.add_axes([left, 96 / 669, w, 531 / 669])
    xs = [q[0] for q in p["points"]]
    ys = [q[1] for q in p["points"]]
    cs = [colour_of[q[2]] for q in p["points"]]
    ax.scatter(xs, ys, s=38, c=cs, alpha=0.8, linewidths=0, zorder=2)
    draw_regimes(ax)
    ax.set_yscale("log")
    ax.set_xlim(0, 10)
    ax.set_ylim(p["ymin"], 5)
    ax.set_yticks(y_ticks)
    ax.set_yticklabels(y_tick_labels)
    ax.yaxis.set_minor_locator(NullLocator())
    ax.set_xticks(x_ticks)
    ax.tick_params(axis="both", direction="out", length=9, width=0.8, labelsize=16)
    ax.tick_params(axis="x", pad=10)
    ax.tick_params(axis="y", pad=8)
    for sp in ax.spines.values():
        sp.set_linewidth(0.8)
    ax.set_xlabel(p["xlabel"], fontsize=19, labelpad=6)
    ax.set_ylabel(p["ylabel"], fontsize=19, labelpad=4)
    ax.text(0.0, 1.012, p["tag"], transform=ax.transAxes, fontsize=18, ha="left", va="bottom")
    axes.append(ax)

ax_a, ax_b = axes
ax_a.text(8.28, 2.97, "above SBL", fontsize=16, ha="center", va="center", zorder=4)
ax_a.text(8.28, 0.90, "intermittent", fontsize=16, ha="center", va="center", zorder=4)
ax_a.text(4.99, 0.345, "zless", fontsize=16, ha="center", va="center", zorder=4)
ax_a.text(3.0, 0.158, "local", fontsize=16, ha="center", va="center", zorder=4)
ax_a.text(4.99, 0.0805, "surface layer", fontsize=16, ha="center", va="center", zorder=4)
ax_a.text(0.49, 0.272, "near-neutral upper", fontsize=16, rotation=90, ha="center", va="center", zorder=4)

ax_b.text(4.97, 0.1875, "z/\u039b = 1", fontsize=16, rotation=-32, ha="center", va="center", zorder=4)
ax_b.text(8.72, 0.55, "(h-z)/\u039b = 10", fontsize=16, rotation=-52, ha="center", va="center", zorder=4)

fig.savefig("out.png", dpi=100)
